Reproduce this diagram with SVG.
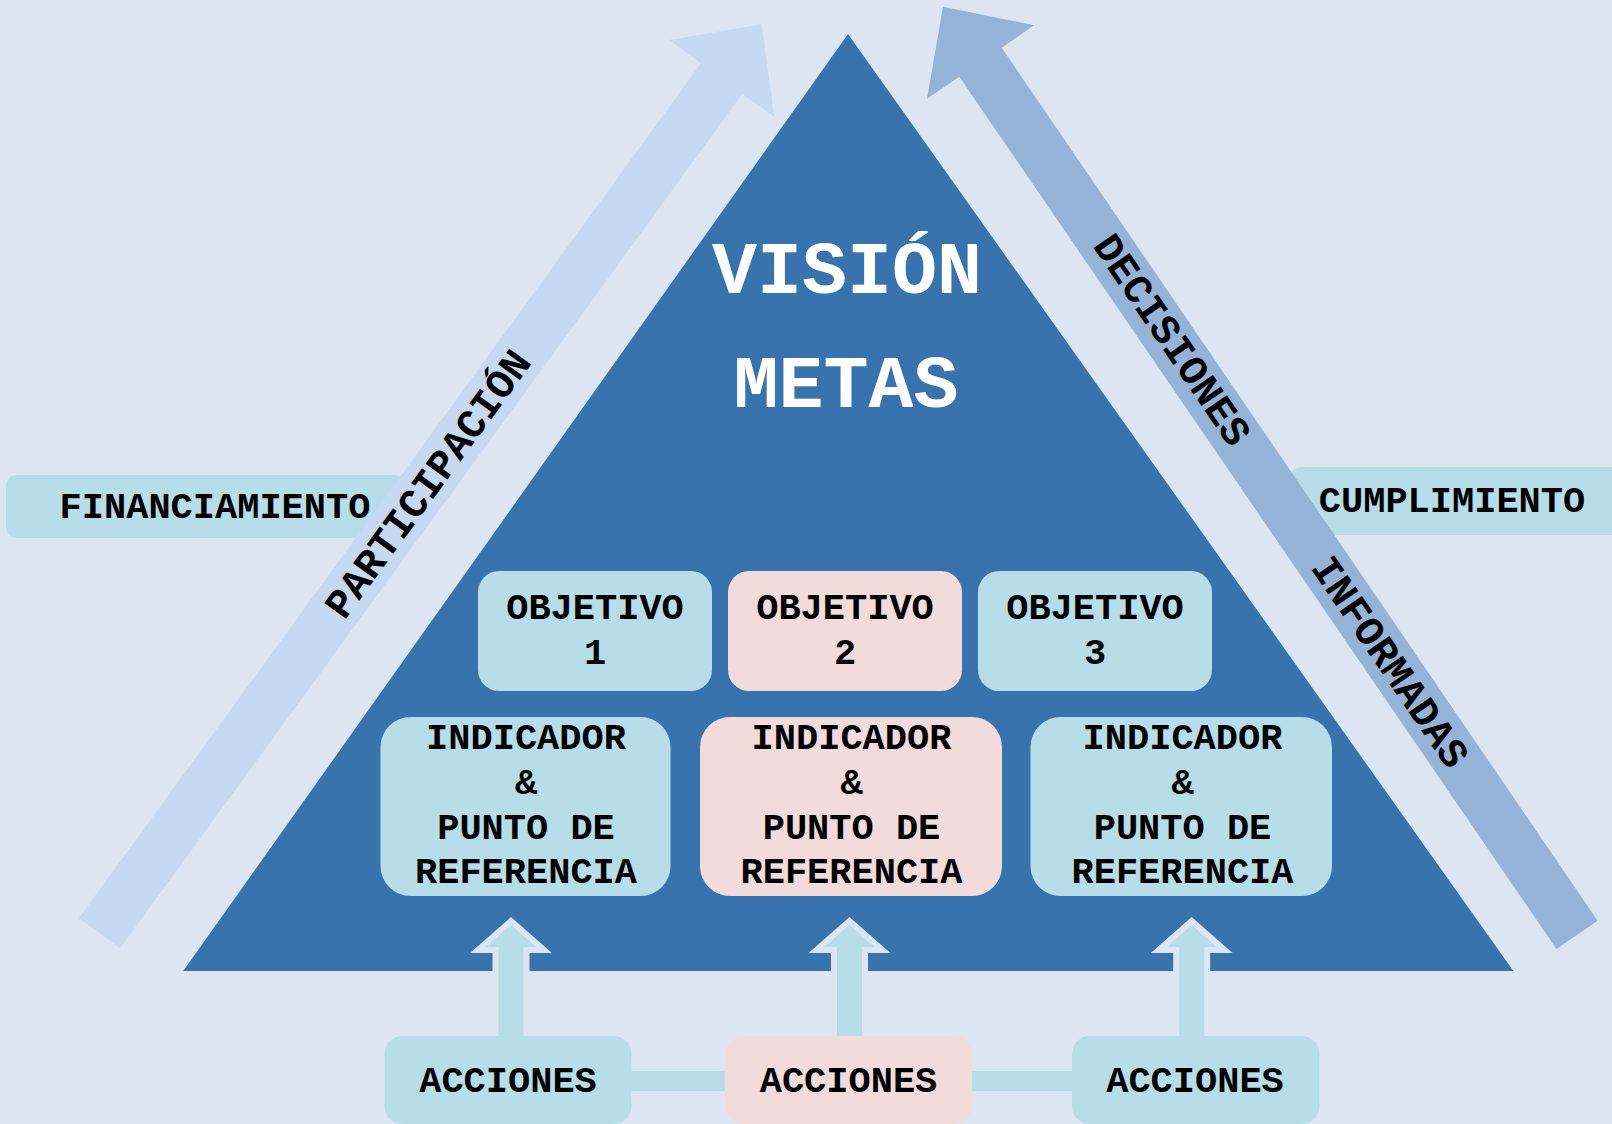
<svg xmlns="http://www.w3.org/2000/svg" width="1612" height="1124" viewBox="0 0 1612 1124">
<style>
.t{font-family:"Courier New","Liberation Mono","DejaVu Sans Mono",monospace;font-weight:bold;font-size:37px;fill:#000;text-anchor:middle}
.rot{font-size:41px}
.big{font-size:75px;fill:#fff}
.blue{fill:#b7dde8}
.pink{fill:#f2dcdb}
.up{fill:#b7dde8;stroke:#dce6f2;stroke-width:6;stroke-linejoin:miter}
</style>
<rect x="0" y="0" width="1612" height="1124" fill="#dce6f2"/>
<g id="financiamiento">
<rect class="blue" x="6" y="475" width="400" height="63" rx="11"/>
<text class="t" x="215" y="518">FINANCIAMIENTO</text>
</g>
<g id="cumplimiento">
<rect class="blue" x="1290" y="467" width="340" height="68" rx="11"/>
<text class="t" x="1452" y="512">CUMPLIMIENTO</text>
</g>
<g id="participacion">
<polygon fill="#c6d9f0" points="120,948.3 742.3,94 774.3,116.7 761.7,24.3 669.3,40 701,63.3 78.9,918.3"/>
<text class="t rot" transform="translate(428,484) rotate(-53.96)" x="0" y="13">PARTICIPACIÓN</text>
</g>
<g id="decisiones">
<polygon fill="#95b3d7" points="1556.5,949 959.3,76.7 927,98.7 943,6.7 1034,25.3 1001.7,47.7 1597.7,920.7"/>
<text class="t rot" transform="translate(1172,340) rotate(55.67)" x="0" y="13">DECISIONES</text>
<text class="t rot" transform="translate(1390,662) rotate(55.67)" x="0" y="13">INFORMADAS</text>
</g>
<g id="piramide">
<polygon fill="#3873ae" points="848,34 1513.4,971 183.2,971"/>
<text class="t big" x="847" y="293">VISIÓN</text>
<text class="t big" x="846" y="407">METAS</text>
</g>
<g id="objetivo1">
<rect class="blue" x="478" y="571" width="234" height="120" rx="21"/>
<text class="t" x="595" y="619">OBJETIVO</text>
<text class="t" x="595" y="664">1</text>
</g>
<g id="objetivo2">
<rect class="pink" x="728" y="571" width="234" height="120" rx="21"/>
<text class="t" x="845" y="619">OBJETIVO</text>
<text class="t" x="845" y="664">2</text>
</g>
<g id="objetivo3">
<rect class="blue" x="978" y="571" width="234" height="120" rx="21"/>
<text class="t" x="1095" y="619">OBJETIVO</text>
<text class="t" x="1095" y="664">3</text>
</g>
<g id="indicador1">
<rect class="blue" x="380.5" y="717" width="290" height="179" rx="30"/>
<text class="t" x="526" y="749">INDICADOR</text>
<text class="t" x="526" y="794">&amp;</text>
<text class="t" x="526" y="839">PUNTO DE</text>
<text class="t" x="526" y="883">REFERENCIA</text>
</g>
<g id="indicador2">
<rect class="pink" x="700" y="717" width="302" height="179" rx="30"/>
<text class="t" x="851.5" y="749">INDICADOR</text>
<text class="t" x="851.5" y="794">&amp;</text>
<text class="t" x="851.5" y="839">PUNTO DE</text>
<text class="t" x="851.5" y="883">REFERENCIA</text>
</g>
<g id="indicador3">
<rect class="blue" x="1030.5" y="717" width="301.5" height="179" rx="30"/>
<text class="t" x="1182.5" y="749">INDICADOR</text>
<text class="t" x="1182.5" y="794">&amp;</text>
<text class="t" x="1182.5" y="839">PUNTO DE</text>
<text class="t" x="1182.5" y="883">REFERENCIA</text>
</g>
<g id="conectores">
<rect class="blue" x="620" y="1071" width="460" height="20"/>
<path class="up" d="M511,921 L544,950 L526.5,950 L526.5,1040 L495.5,1040 L495.5,950 L478,950 Z"/>
<path class="up" d="M849.5,921 L882.5,950 L865,950 L865,1040 L834,1040 L834,950 L816.5,950 Z"/>
<path class="up" d="M1191.7,921 L1224.7,950 L1207.2,950 L1207.2,1040 L1176.2,1040 L1176.2,950 L1158.7,950 Z"/>
</g>
<g id="acciones1">
<rect class="blue" x="384.5" y="1036" width="247" height="88" rx="18"/>
<text class="t" x="508" y="1092">ACCIONES</text>
</g>
<g id="acciones2">
<rect class="pink" x="725" y="1036" width="247" height="88" rx="18"/>
<text class="t" x="848.5" y="1092">ACCIONES</text>
</g>
<g id="acciones3">
<rect class="blue" x="1072" y="1036" width="247.5" height="88" rx="18"/>
<text class="t" x="1195" y="1092">ACCIONES</text>
</g>
</svg>
